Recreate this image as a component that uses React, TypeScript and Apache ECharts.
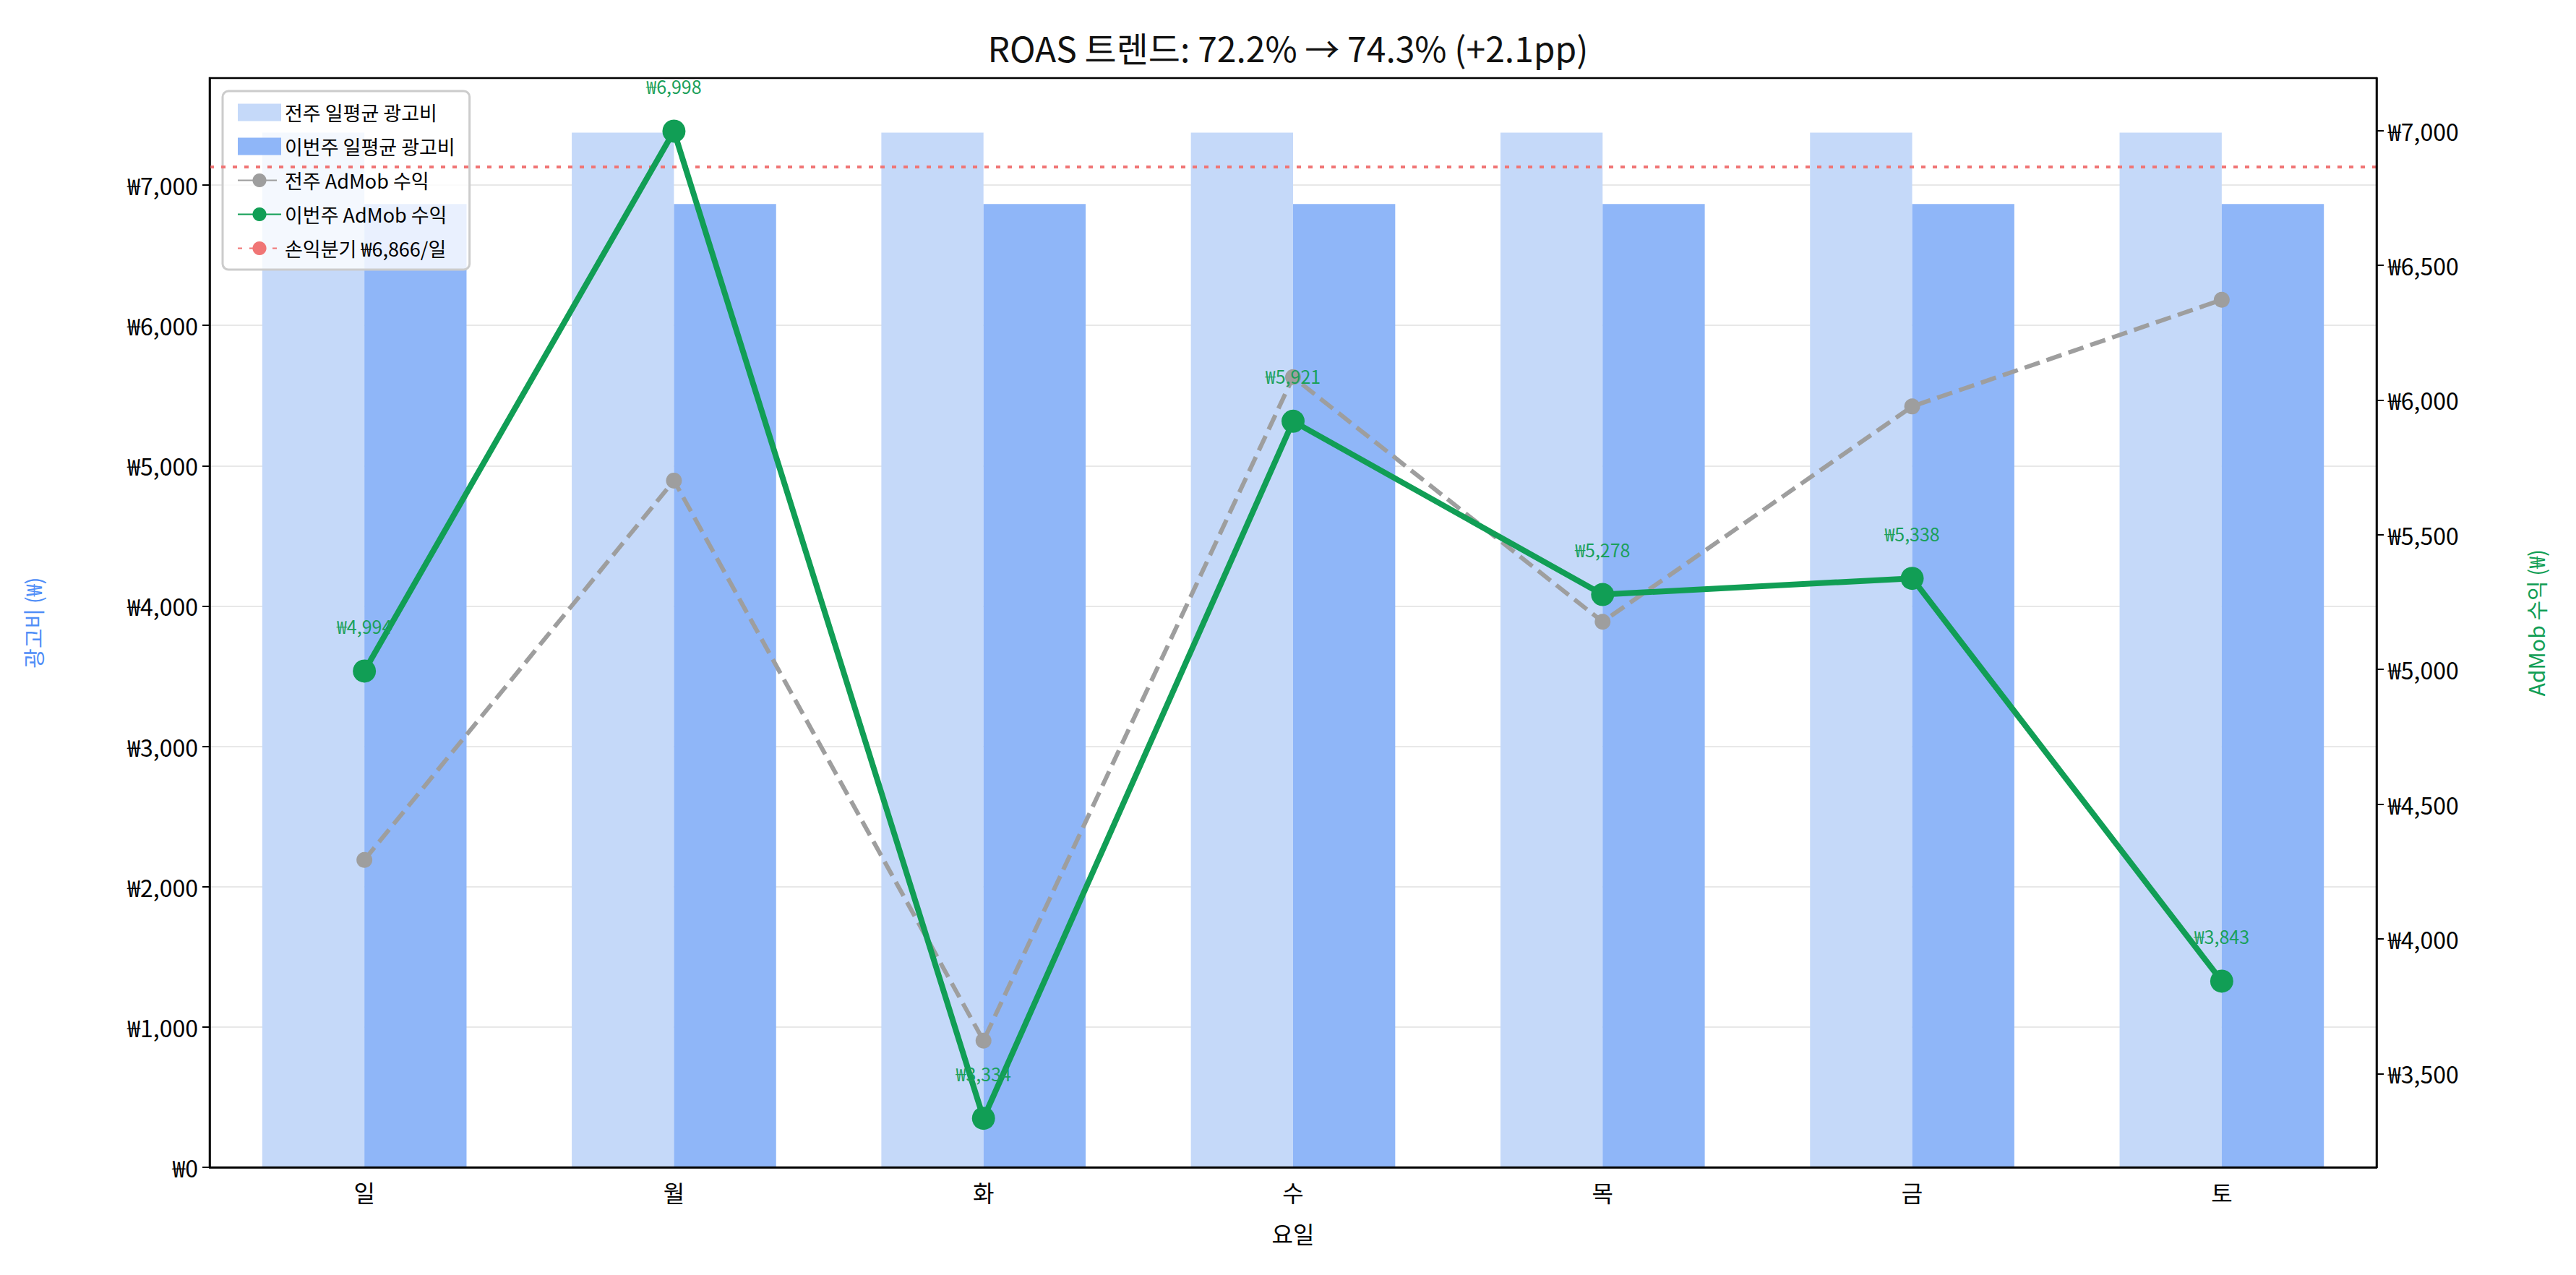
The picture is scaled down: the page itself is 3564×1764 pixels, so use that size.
import { useEffect, useRef } from 'react'
import * as echarts from 'echarts'

const days = ['일', '월', '화', '수', '목', '금', '토']
const prevSpend = [7374, 7374, 7374, 7374, 7374, 7374, 7374]
const curSpend = [6866, 6866, 6866, 6866, 6866, 6866, 6866]
const prevRevenue = [4293, 5701, 3622, 6085, 5177, 5976, 6372]
const curRevenue = [4994, 6998, 3334, 5921, 5278, 5338, 3843]
const breakEven = 6866
const rightTicks = [3500, 4000, 4500, 5000, 5500, 6000, 6500, 7000]

const FONT = '"Noto Sans CJK KR", "Noto Sans", sans-serif'
const won = (v: number) => '₩' + Math.round(v).toLocaleString('en-US')

export default function App() {
  const ref = useRef<HTMLDivElement>(null)

  useEffect(() => {
    if (!ref.current) return
    const chart = echarts.init(ref.current, undefined, { renderer: 'svg' })
    chart.setOption({
      animation: false,
      backgroundColor: '#fff',
      textStyle: { fontFamily: FONT },
      title: {
        text: 'ROAS 트렌드: 72.2% → 74.3% (+2.1pp)',
        left: 'center',
        top: 28,
        textStyle: { fontFamily: FONT, fontSize: 48, fontWeight: 'normal', color: '#111' },
      },
      grid: {
        left: 282, right: 268, top: 100, bottom: 141,
        show: true, borderColor: '#000', borderWidth: 2.5, backgroundColor: 'transparent', z: 10,
      },
      legend: {
        orient: 'vertical',
        left: 300,
        top: 118,
        itemWidth: 60,
        itemHeight: 24,
        itemGap: 20,
        padding: [16, 20],
        borderColor: '#ccc',
        borderWidth: 3,
        borderRadius: 8,
        backgroundColor: 'rgba(255,255,255,0.8)',
        textStyle: { fontFamily: FONT, fontSize: 27, color: '#000' },
        data: [
          { name: '전주 일평균 광고비', icon: 'rect' },
          { name: '이번주 일평균 광고비', icon: 'rect' },
          '전주 AdMob 수익',
          '이번주 AdMob 수익',
          '손익분기 ₩6,866/일',
        ],
      },
      xAxis: {
        type: 'category',
        data: days,
        name: '요일',
        nameLocation: 'middle',
        nameGap: 75,
        nameTextStyle: { fontSize: 32, color: '#000' },
        axisLine: { lineStyle: { color: '#000', width: 2.5 } },
        axisTick: { alignWithLabel: true, length: 10, lineStyle: { color: '#000', width: 2 } },
        axisLabel: { fontSize: 32, color: '#000', margin: 18 },
      },
      yAxis: [
        {
          type: 'value',
          min: 0,
          max: 7763,
          interval: 1000,
          name: '광고비 (₩)',
          nameLocation: 'middle',
          nameGap: 230,
          nameTextStyle: { fontSize: 30, color: '#4f8ef7' },
          axisLine: { show: true, lineStyle: { color: '#000', width: 2.5 } },
          axisTick: { show: true, length: 10, lineStyle: { color: '#000', width: 2 } },
          axisLabel: { fontSize: 32, color: '#000', margin: 16, formatter: (v: number) => (v > 7000 ? '' : won(v)), showMaxLabel: false },
          splitLine: { showMaxLine: false, lineStyle: { color: '#e8e8e8', width: 2 } },
        },
        {
          type: 'value',
          min: 3152,
          max: 7195,
          name: 'AdMob 수익 (₩)',
          nameLocation: 'middle',
          nameGap: 205,
          nameRotate: 90,
          nameTextStyle: { fontSize: 30, color: '#119e55' },
          axisLine: { show: true, lineStyle: { color: '#000', width: 2.5 } },
          axisTick: { show: true, length: 10, lineStyle: { color: '#000', width: 2 }, customValues: rightTicks },
          axisLabel: { fontSize: 32, color: '#000', margin: 16, formatter: won, customValues: rightTicks },
          splitLine: { show: false },
        },
      ],
      series: [
        {
          name: '전주 일평균 광고비',
          type: 'bar',
          data: prevSpend,
          barWidth: '33%',
          barGap: '0%',
          itemStyle: { color: '#c5d9f9' },
        },
        {
          name: '이번주 일평균 광고비',
          type: 'bar',
          data: curSpend,
          barWidth: '33%',
          barGap: '0%',
          itemStyle: { color: '#8fb6f8' },
        },
        {
          name: '전주 AdMob 수익',
          type: 'line',
          yAxisIndex: 1,
          data: prevRevenue,
          symbol: 'circle',
          symbolSize: 22,
          itemStyle: { color: '#9e9e9e' },
          lineStyle: { color: '#9e9e9e', width: 6, type: [22, 10] },
        },
        {
          name: '이번주 AdMob 수익',
          type: 'line',
          yAxisIndex: 1,
          data: curRevenue,
          symbol: 'circle',
          symbolSize: 32,
          itemStyle: { color: '#119e55' },
          lineStyle: { color: '#119e55', width: 8 },
          label: {
            show: true,
            position: 'top',
            distance: 34,
            fontSize: 25,
            color: '#1aa05a',
            formatter: (p: { value: number }) => won(p.value),
          },
          z: 5,
        },
        {
          name: '손익분기 ₩6,866/일',
          type: 'line',
          yAxisIndex: 1,
          data: [],
          symbol: 'none',
          itemStyle: { color: '#f07575' },
          lineStyle: { color: '#f07575', width: 4, type: [6, 10] },
          markLine: {
            silent: true,
            symbol: 'none',
            label: { show: false },
            lineStyle: { color: '#f07575', width: 4, type: [6, 10] },
            data: [{ yAxis: breakEven }],
          },
        },
      ],
    })
    return () => chart.dispose()
  }, [])

  return <div ref={ref} style={{ width: 3548, height: 1748 }} />
}
